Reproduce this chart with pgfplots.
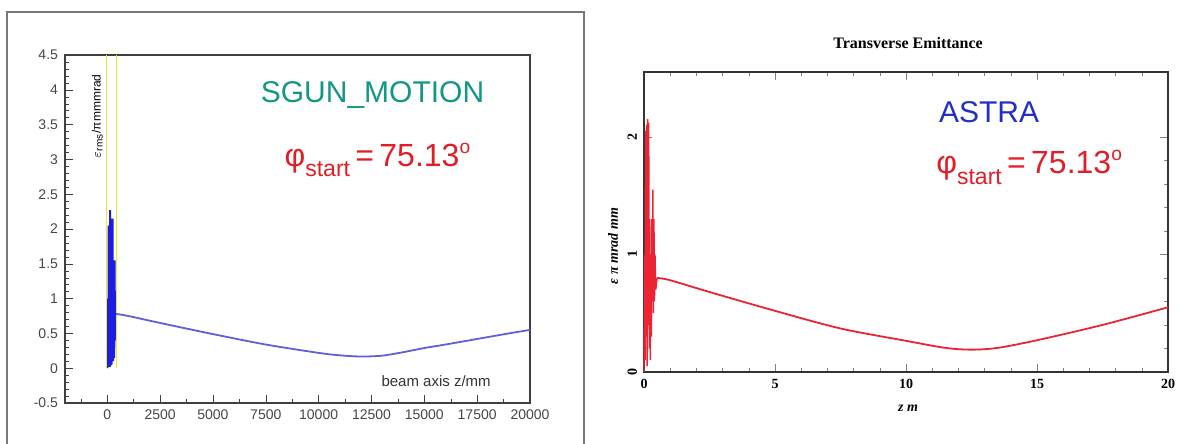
\documentclass[border=0pt]{standalone}
\usepackage{fontspec}
\setmainfont{Liberation Sans}
\newfontfamily\plotserif{Liberation Serif}
\usepackage{pgfplots}
\pgfplotsset{compat=1.18}

\definecolor{sgunteal}{RGB}{20,150,135}
\definecolor{astrablue}{RGB}{35,45,200}
\definecolor{phired}{RGB}{225,30,40}
\definecolor{curveblue}{RGB}{30,30,225}
\definecolor{curveblue2}{RGB}{95,95,220}
\definecolor{curvered}{RGB}{235,35,50}
\definecolor{framegray}{RGB}{120,120,120}
\definecolor{ticklbl}{RGB}{70,70,70}
\definecolor{markyellow}{RGB}{235,235,40}

\newcommand{\phistart}[1]{\textcolor{phired}{\fontsize{#1}{#1}\selectfont
  φ\raisebox{-0.32em}{\fontsize{0.72\dimexpr#1\relax}{1pt}\selectfont start}\,=\,75.13\raisebox{0.42em}{\fontsize{0.6\dimexpr#1\relax}{1pt}\selectfont o}}}

\begin{document}
\begin{tikzpicture}
% 1 px of the reference = 0.5pt
\path[use as bounding box] (0,0) rectangle (591.5pt,222pt);
\draw[framegray, line width=1pt] (3.5pt,0) -- (3.5pt,216pt) -- (292pt,216pt) -- (292pt,0);

% ---------- left panel: SGUN_MOTION ----------
\begin{axis}[
  at={(32.5pt,20.5pt)}, anchor=south west,
  scale only axis, width=232.5pt, height=174pt,
  xmin=-2000, xmax=20000, ymin=-0.5, ymax=4.5,
  xtick={0,2500,...,20000}, scaled x ticks=false,
  minor xtick={-1250,1250,3750,6250,8750,11250,13750,16250,18750},
  ytick={-0.5,0,...,4.5}, minor y tick num=4,
  xtick pos=bottom, ytick pos=left, tick align=inside,
  major tick length=4pt, minor tick length=2pt,
  axis line style={line width=0.8pt, black!75},
  tick style={black!75},
  /pgf/number format/assume math mode=true,
  /pgf/number format/set thousands separator={},
  ticklabel style={font=\fontsize{7}{8}\selectfont, text=ticklbl},
  clip=false,
]
\addplot[curveblue, line width=1pt] coordinates {
  (0,0.0)(10,0.7)(20,0.05)(30,1.0)(40,0.02)(50,0.9)(60,0.05)(70,2.05)(80,0.03)
  (90,1.0)(100,0.05)(110,1.65)(120,0.02)(130,2.27)(140,0.05)(150,1.0)(160,0.04)
  (170,2.15)(180,0.1)(190,1.6)(200,0.05)(210,2.1)(220,0.1)(230,1.0)(240,0.1)
  (250,2.15)(260,0.15)(270,1.1)(280,0.1)(290,1.55)(300,0.2)(310,1.1)(320,0.15)
  (330,0.9)(340,0.3)(350,1.55)(360,0.4)(370,0.9)(380,0.5)(390,0.85)(400,0.6)(420,0.78)
};
\addplot[markyellow, line width=0.6pt] coordinates {(-20,0)(-20,4.5)};
\addplot[markyellow, line width=0.6pt] coordinates {(430,0)(430,4.5)};
\addplot[curveblue2, line width=0.9pt, smooth] coordinates {
  (420,0.78)(1000,0.75)(2500,0.65)(5000,0.49)(7500,0.34)(10000,0.22)(11000,0.185)
  (12000,0.168)(13000,0.18)(14000,0.23)(15000,0.29)(16000,0.34)(17500,0.42)
  (19000,0.50)(20000,0.55)
};
\node[rotate=90, font=\fontsize{6}{7}\selectfont] at (axis cs:-470,3.62)
  {$\varepsilon_{\mathrm{rms}}$/πmmmrad};
\node[font=\fontsize{7.5}{9}\selectfont, text=black!80] at (axis cs:15560,-0.19) {beam axis z/mm};
\node[font=\fontsize{15}{15}\selectfont, text=sgunteal] at (axis cs:12550,3.93) {SGUN\_MOTION};
\node at (axis cs:12780,2.99) {\phistart{16pt}};
\end{axis}

% ---------- right panel: ASTRA ----------
\begin{axis}[
  at={(322pt,36pt)}, anchor=south west,
  scale only axis, width=262pt, height=150pt,
  xmin=0, xmax=20, ymin=0, ymax=2.55,
  xtick={0,5,...,20}, minor x tick num=4,
  ytick={0,1,2}, minor y tick num=4,
  tick align=inside,
  major tick length=4pt, minor tick length=2pt,
  axis line style={line width=0.8pt, black!80},
  /pgf/number format/assume math mode=true,
  ticklabel style={font=\plotserif\bfseries\fontsize{7}{8}\selectfont},
  yticklabel style={rotate=90, anchor=south},
  xlabel={\textit{z m}},
  xlabel style={font=\plotserif\bfseries\fontsize{7}{8}\selectfont, at={(rel axis cs:0.504,-0.12)}, anchor=center},
  ylabel={\textit{ε π mrad mm}},
  ylabel style={font=\plotserif\bfseries\fontsize{7}{8}\selectfont, at={(rel axis cs:-0.059,0.42)}, anchor=center},
  clip=false,
]
\addplot[curvered, line width=0.7pt] coordinates {
  (0,0.0)(0.02,1.0)(0.04,0.1)(0.06,2.05)(0.08,0.3)(0.1,2.1)(0.12,0.05)(0.14,2.15)
  (0.16,0.4)(0.18,2.12)(0.2,0.2)(0.22,1.3)(0.24,0.1)(0.26,1.0)(0.28,0.3)(0.30,1.3)
  (0.32,0.6)(0.34,1.55)(0.36,0.5)(0.38,1.3)(0.40,0.6)(0.42,1.0)(0.45,0.7)(0.5,0.8)
};
\addplot[curvered, line width=0.9pt, smooth] coordinates {
  (0.5,0.80)(1,0.78)(2.5,0.68)(5,0.52)(7.5,0.37)(10,0.265)(11.5,0.205)(12.5,0.19)
  (13.5,0.205)(15,0.27)(17.5,0.40)(20,0.55)
};
\node[font=\fontsize{15}{15}\selectfont, text=astrablue] at (axis cs:13.17,2.21) {ASTRA};
\node at (axis cs:14.7,1.74) {\phistart{16pt}};
\node[font=\plotserif\bfseries\fontsize{8}{9}\selectfont] at (rel axis cs:0.504,1.097) {Transverse Emittance};
\end{axis}
\end{tikzpicture}
\end{document}
